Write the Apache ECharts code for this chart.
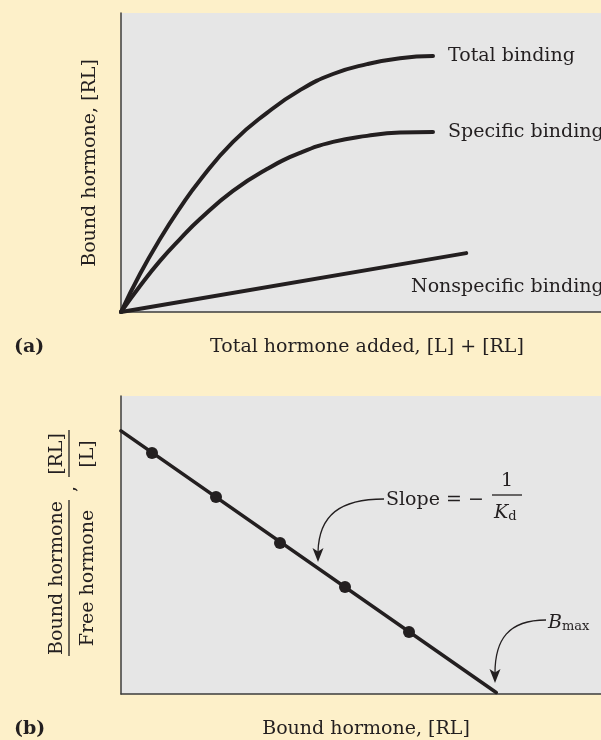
<!DOCTYPE html>
<html>
<head>
<meta charset="utf-8">
<script src="https://cdn.jsdelivr.net/npm/echarts@6/dist/echarts.min.js"></script>
<style>
  html, body { margin: 0; padding: 0; background: #fdf0c9; }
  #chart { width: 601px; height: 740px; }
</style>
</head>
<body>
<div id="chart"></div>
<script>
// ---- Panel (a): saturation binding curves (arbitrary units) ----
const bindingX      = [0, 0.475, 0.975, 1.475, 1.975, 2.8, 3.65, 4.475, 5.3, 6.15, 6.975, 7.8];
const totalBinding  = [0, 1.27, 2.44, 3.48, 4.41, 5.69, 6.66, 7.42, 7.96, 8.29, 8.49, 8.56];
const specificBinding = [0, 0.87, 1.71, 2.44, 3.11, 4.05, 4.78, 5.32, 5.69, 5.89, 6.00, 6.02];
const nonspecificX  = [0, 8.63];
const nonspecificY  = [0, 1.97];

// ---- Panel (b): Scatchard plot ----
const scatchardLineX = [0, 9.38];
const scatchardLineY = [8.83, 0.05];
const scatchardPtsX  = [0.775, 2.375, 3.975, 5.6, 7.2];
const scatchardPtsY  = [8.09, 6.61, 5.07, 3.59, 2.08];

// ---- Text ----
const seriesNames = ['Total binding', 'Specific binding', 'Nonspecific binding'];
const labelA = '(a)';
const labelB = '(b)';
const xTitleA = 'Total hormone added, [L] + [RL]';
const yTitleA = 'Bound hormone, [RL]';
const xTitleB = 'Bound hormone, [RL]';

const FONT = '"DejaVu Serif", "Liberation Serif", serif';
const INK = '#231f20';
const zip = (xs, ys) => xs.map((x, i) => [x, ys[i]]);

const axisCommon = {
  type: 'value',
  axisLine: { show: true, onZero: false, lineStyle: { color: '#3c3c3c', width: 1.5 } },
  axisTick: { show: false },
  axisLabel: { show: false },
  splitLine: { show: false }
};

const chart = echarts.init(document.getElementById('chart'), null, { renderer: 'canvas' });

function T(x, y, text, style, rotation) {
  const el = { type: 'text', x: x, y: y, silent: true,
    style: Object.assign({ text: text, fontFamily: FONT, fontSize: 19, fill: INK,
      align: 'left', verticalAlign: 'middle' }, style || {}) };
  if (rotation) el.rotation = rotation;
  return el;
}

const option = {
  backgroundColor: '#fdf0c9',
  animation: false,
  grid: [
    { left: 121, top: 13, width: 480, height: 299, show: true, backgroundColor: '#e6e6e6', borderWidth: 0 },
    { left: 121, top: 396, width: 480, height: 298, show: true, backgroundColor: '#e6e6e6', borderWidth: 0 }
  ],
  xAxis: [
    Object.assign({}, axisCommon, { gridIndex: 0, min: 0, max: 12 }),
    Object.assign({}, axisCommon, { gridIndex: 1, min: 0, max: 12 })
  ],
  yAxis: [
    Object.assign({}, axisCommon, { gridIndex: 0, min: 0, max: 10 }),
    Object.assign({}, axisCommon, { gridIndex: 1, min: 0, max: 10 })
  ],
  series: [
    {
      name: seriesNames[0], type: 'line', xAxisIndex: 0, yAxisIndex: 0,
      data: zip(bindingX, totalBinding), smooth: 0.5,
      symbol: 'none', clip: false,
      lineStyle: { color: INK, width: 4, cap: 'round' },
      endLabel: { show: true, formatter: seriesNames[0], distance: 15,
        fontFamily: FONT, fontSize: 19, color: INK }
    },
    {
      name: seriesNames[1], type: 'line', xAxisIndex: 0, yAxisIndex: 0,
      data: zip(bindingX, specificBinding), smooth: 0.5,
      symbol: 'none', clip: false,
      lineStyle: { color: INK, width: 4, cap: 'round' },
      endLabel: { show: true, formatter: seriesNames[1], distance: 15,
        fontFamily: FONT, fontSize: 19, color: INK }
    },
    {
      name: seriesNames[2], type: 'line', xAxisIndex: 0, yAxisIndex: 0,
      data: zip(nonspecificX, nonspecificY), symbol: 'none', clip: false,
      lineStyle: { color: INK, width: 4, cap: 'round' }
    },
    {
      name: 'Scatchard line', type: 'line', xAxisIndex: 1, yAxisIndex: 1,
      data: zip(scatchardLineX, scatchardLineY), symbol: 'none', clip: false,
      lineStyle: { color: INK, width: 3.5, cap: 'round' }
    },
    {
      name: 'Scatchard points', type: 'scatter', xAxisIndex: 1, yAxisIndex: 1,
      data: zip(scatchardPtsX, scatchardPtsY), symbol: 'circle', symbolSize: 12,
      itemStyle: { color: INK, opacity: 1 }
    }
  ],
  graphic: [
    // panel (a) texts
    T(411, 287, seriesNames[2]),
    T(90, 163, yTitleA, { align: 'center' }, Math.PI / 2),
    T(14, 347, labelA, { fontWeight: 'bold' }),
    T(367, 347, xTitleA, { align: 'center' }),
    // panel (b) texts
    T(14, 729, labelB, { fontWeight: 'bold' }),
    T(366, 729, xTitleB, { align: 'center' }),
    // y title (b): fraction Bound hormone / Free hormone , [RL]/[L]
    T(57, 578, 'Bound hormone', { align: 'center' }, Math.PI / 2),
    T(88, 578, 'Free hormone', { align: 'center' }, Math.PI / 2),
    { type: 'line', silent: true, shape: { x1: 69, y1: 500, x2: 69, y2: 656 }, style: { stroke: INK, lineWidth: 1.3 } },
    T(70, 489, ',', { align: 'center' }, Math.PI / 2),
    T(57, 454, '[RL]', { align: 'center' }, Math.PI / 2),
    T(88, 454, '[L]', { align: 'center' }, Math.PI / 2),
    { type: 'line', silent: true, shape: { x1: 69, y1: 430, x2: 69, y2: 477 }, style: { stroke: INK, lineWidth: 1.3 } },
    // slope annotation
    T(386, 500, 'Slope = \u2212'),
    T(507, 481, '1', { align: 'center' }),
    { type: 'line', silent: true, shape: { x1: 492, y1: 495, x2: 522, y2: 495 }, style: { stroke: INK, lineWidth: 1.3 } },
    {
      type: 'text', x: 494, y: 513, silent: true,
      style: { text: '{k|K}{d|d}', align: 'left', verticalAlign: 'middle', fill: INK,
        rich: { k: { fontFamily: FONT, fontSize: 19, fontStyle: 'italic', fill: INK, color: INK },
                d: { fontFamily: FONT, fontSize: 13, fill: INK, color: INK, padding: [8, 0, 0, 0] } } }
    },
    { type: 'bezierCurve', silent: true,
      shape: { x1: 384, y1: 499, cpx1: 340, cpy1: 499, cpx2: 319, cpy2: 515, x2: 318, y2: 552 },
      style: { stroke: INK, lineWidth: 1.3, fill: null } },
    { type: 'polygon', silent: true,
      shape: { points: [[318, 562], [312.5, 548], [318, 551.5], [323.5, 548]] },
      style: { fill: INK } },
    // B_max annotation
    {
      type: 'text', x: 548, y: 623, silent: true,
      style: { text: '{b|B}{m|max}', align: 'left', verticalAlign: 'middle', fill: INK,
        rich: { b: { fontFamily: FONT, fontSize: 19, fontStyle: 'italic', fill: INK, color: INK },
                m: { fontFamily: FONT, fontSize: 13, fill: INK, color: INK, padding: [8, 0, 0, 0] } } }
    },
    { type: 'bezierCurve', silent: true,
      shape: { x1: 546, y1: 620, cpx1: 508, cpy1: 620, cpx2: 495, cpy2: 640, x2: 495, y2: 673 },
      style: { stroke: INK, lineWidth: 1.3, fill: null } },
    { type: 'polygon', silent: true,
      shape: { points: [[495, 683], [489.5, 669], [495, 672.5], [500.5, 669]] },
      style: { fill: INK } }
  ]
};

chart.setOption(option);
</script>
</body>
</html>
